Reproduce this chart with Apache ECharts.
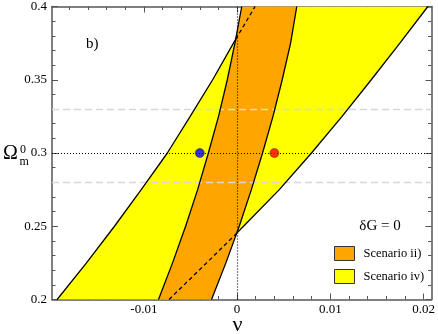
<!DOCTYPE html>
<html>
<head>
<meta charset="utf-8">
<script src="https://cdn.jsdelivr.net/npm/echarts@6/dist/echarts.min.js"></script>
<style>
html,body{margin:0;padding:0;background:#fff;}
#chart{width:438px;height:334px;}
</style>
</head>
<body>
<div id="chart"></div>
<script>
// ---- data ----
const omega          = [0.2, 0.225, 0.25, 0.275, 0.3, 0.325, 0.35, 0.375, 0.4];
const nuYellowLeft   = [-0.0193, -0.01615, -0.01315, -0.01028, -0.00748, -0.00503, -0.00262, -0.00039, 0.00193];
const nuYellowRight  = [-0.0073, -0.00327, 0.00069, 0.00453, 0.00798, 0.01126, 0.01439, 0.01746, 0.02046];
const nuOrangeLeft   = [-0.00843, -0.00692, -0.00552, -0.00423, -0.00308, -0.00199, -0.00105, -0.00023, 0.0005];
const nuOrangeRight  = [-0.00274, -0.0012, 0.00023, 0.00153, 0.00273, 0.00385, 0.00484, 0.00574, 0.0064];
const crossUpper     = [-0.00015, 0.3776];   // yellow-left boundary enters orange band
const crossLower     = [0.0, 0.2455];        // yellow-right boundary enters orange band

const pointNu    = [-0.004, 0.004];
const pointOmega = [0.3, 0.3];
const pointColor = ['#0000ff', '#ff0000'];

const dottedOmega = 0.3;
const dottedNu    = 0;
const dashedOmega = [0.28, 0.33];

const xMajor = [-0.01, 0, 0.01, 0.02];
const xMajorLabels = ['-0.01', '0', '0.01', '0.02'];
const xMinor = [-0.018,-0.016,-0.014,-0.012,-0.008,-0.006,-0.004,-0.002,0.002,0.004,0.006,0.008,0.012,0.014,0.016,0.018];
const yTicks = [0.2, 0.25, 0.3, 0.35, 0.4];
const yTickLabels = ['0.2', '0.25', '0.3', '0.35', '0.4'];

const legendNames = ['Scenario ii)', 'Scenario iv)'];

// ---- build ----
const pairs = (xs) => xs.map((x, i) => [x, omega[i]]);
const Lp = pairs(nuYellowLeft), Rp = pairs(nuYellowRight);
const Ap = pairs(nuOrangeLeft), Bp = pairs(nuOrangeRight);
const yellowPoly = Lp.concat(Rp.slice().reverse());
const orangePoly = Ap.concat(Bp.slice().reverse());

const Lsolid = Lp.filter(p => p[1] < crossUpper[1]).concat([crossUpper]);
const Ldash  = [crossUpper].concat(Lp.filter(p => p[1] > crossUpper[1]));
const Rdash  = Rp.filter(p => p[1] < crossLower[1]).concat([crossLower]);
const Rsolid = [crossLower].concat(Rp.filter(p => p[1] > crossLower[1]));

const serif = 'Liberation Serif';
const axisColor = '#555';
const xMin = -0.01985, xMax = 0.02085;

function poly(name, pts, color) {
  return {
    name, type: 'custom', coordinateSystem: 'cartesian2d', clip: true, z: 1,
    itemStyle: { color },
    data: [[pts[0][0], pts[0][1]]],
    renderItem: (params, api) => ({
      type: 'polygon',
      shape: { points: pts.map(p => api.coord(p)) },
      style: { fill: color, stroke: null }
    })
  };
}
function curve(pts, dashed) {
  return {
    type: 'line', data: pts, showSymbol: false, symbol: 'none', silent: true, z: 5,
    lineStyle: { color: '#000', width: 1.3, type: dashed ? [4, 3] : 'solid' }
  };
}

const xBase = {
  type: 'value', min: xMin, max: xMax, scale: true,
  splitLine: { show: false }
};
const yBase = {
  type: 'value', min: 0.2, max: 0.4, interval: 0.05,
  splitLine: { show: false },
  minorTick: { show: true, splitNumber: 5, length: 3.5, lineStyle: { color: axisColor, width: 1 } }
};
const line = (show) => ({ show, onZero: false, lineStyle: { color: axisColor, width: 1.5 } });

const option = {
  animation: false,
  grid: { left: 52, top: 6.5, width: 379.5, height: 293 },
  xAxis: [
    Object.assign({}, xBase, {
      position: 'bottom',
      axisLine: line(true),
      axisTick: { show: true, inside: true, length: 6, customValues: xMajor, lineStyle: { color: axisColor, width: 1 } },
      axisLabel: { show: true, customValues: xMajor, margin: 4,
        formatter: v => { let k = 0; xMajor.forEach((t, i) => { if (Math.abs(t - v) < Math.abs(xMajor[k] - v)) k = i; }); return xMajorLabels[k]; },
        color: '#000', fontFamily: serif, fontSize: 13 }
    }),
    Object.assign({}, xBase, {
      position: 'bottom',
      axisLine: line(false),
      axisTick: { show: true, inside: true, length: 3.5, customValues: xMinor, lineStyle: { color: axisColor, width: 1 } },
      axisLabel: { show: false }
    }),
    Object.assign({}, xBase, {
      position: 'top',
      axisLine: line(true),
      axisTick: { show: true, inside: true, length: 6, customValues: xMajor, lineStyle: { color: axisColor, width: 1 } },
      axisLabel: { show: false }
    }),
    Object.assign({}, xBase, {
      position: 'top',
      axisLine: line(false),
      axisTick: { show: true, inside: true, length: 3.5, customValues: xMinor, lineStyle: { color: axisColor, width: 1 } },
      axisLabel: { show: false }
    })
  ],
  yAxis: [
    Object.assign({}, yBase, {
      position: 'left',
      axisLine: line(true),
      axisTick: { show: true, inside: true, length: 6, lineStyle: { color: axisColor, width: 1 } },
      axisLabel: { show: true, margin: 5, color: '#000', fontFamily: serif, fontSize: 13,
        formatter: v => { let k = 0; yTicks.forEach((t, i) => { if (Math.abs(t - v) < Math.abs(yTicks[k] - v)) k = i; }); return yTickLabels[k]; } }
    }),
    Object.assign({}, yBase, {
      position: 'right',
      axisLine: line(true),
      axisTick: { show: true, inside: true, length: 6, lineStyle: { color: axisColor, width: 1 } },
      axisLabel: { show: false }
    })
  ],
  legend: {
    orient: 'vertical', left: 329, top: 241, itemWidth: 20, itemHeight: 14, itemGap: 8,
    icon: 'rect',
    data: [
      { name: legendNames[0], itemStyle: { color: '#ffa500', borderColor: '#333', borderWidth: 1 } },
      { name: legendNames[1], itemStyle: { color: '#ffff00', borderColor: '#333', borderWidth: 1 } }
    ],
    textStyle: { fontFamily: serif, fontSize: 12.5, color: '#000', padding: [0, 0, 0, 4] },
    selectedMode: false
  },
  graphic: [
    { type: 'text', left: 3, top: 144, style: { text: 'Ω', font: '20px "Liberation Serif"', fill: '#000' } },
    { type: 'text', x: 20, y: 150, style: { text: '0', font: '12px "Liberation Serif"', fill: '#000', verticalAlign: 'middle' } },
    { type: 'text', x: 19.5, y: 162, style: { text: 'm', font: '12px "Liberation Serif"', fill: '#000', verticalAlign: 'middle' } },
    { type: 'text', x: 237.5, y: 325, style: { text: 'ν', font: '22px "Liberation Serif"', fill: '#000', align: 'center', verticalAlign: 'middle' } },
    { type: 'text', x: 86, y: 44, style: { text: 'b)', font: '15px "Liberation Serif"', fill: '#000', verticalAlign: 'middle' } },
    { type: 'text', x: 380, y: 226, style: { text: 'δG = 0', font: '15px "Liberation Serif"', fill: '#000', align: 'center', verticalAlign: 'middle' } }
  ],
  series: [
    poly(legendNames[1], yellowPoly, '#ffff00'),
    poly(legendNames[0], orangePoly, '#ffa500'),
    {
      type: 'line', data: [], silent: true, z: 3,
      markLine: { silent: true, symbol: 'none', label: { show: false }, animation: false,
        lineStyle: { color: '#d8d8d8', width: 1.3, type: [7, 4] },
        data: dashedOmega.map(v => ({ yAxis: v })) }
    },
    {
      type: 'line', data: [], silent: true, z: 4,
      markLine: { silent: true, symbol: 'none', label: { show: false }, animation: false,
        lineStyle: { color: '#000', width: 1.2, type: [1, 2] },
        data: [{ yAxis: dottedOmega }, { xAxis: dottedNu }] }
    },
    curve(Lsolid, false), curve(Ldash, true),
    curve(Rsolid, false), curve(Rdash, true),
    curve(Ap, false), curve(Bp, false),
    {
      type: 'scatter', z: 10, symbolSize: 9, silent: true,
      data: pointNu.map((x, i) => ({ value: [x, pointOmega[i]], itemStyle: { color: pointColor[i], borderColor: '#222', borderWidth: 0.6 } }))
    }
  ]
};

const chart = echarts.init(document.getElementById('chart'), null, { renderer: 'canvas' });
chart.setOption(option);
</script>
</body>
</html>
